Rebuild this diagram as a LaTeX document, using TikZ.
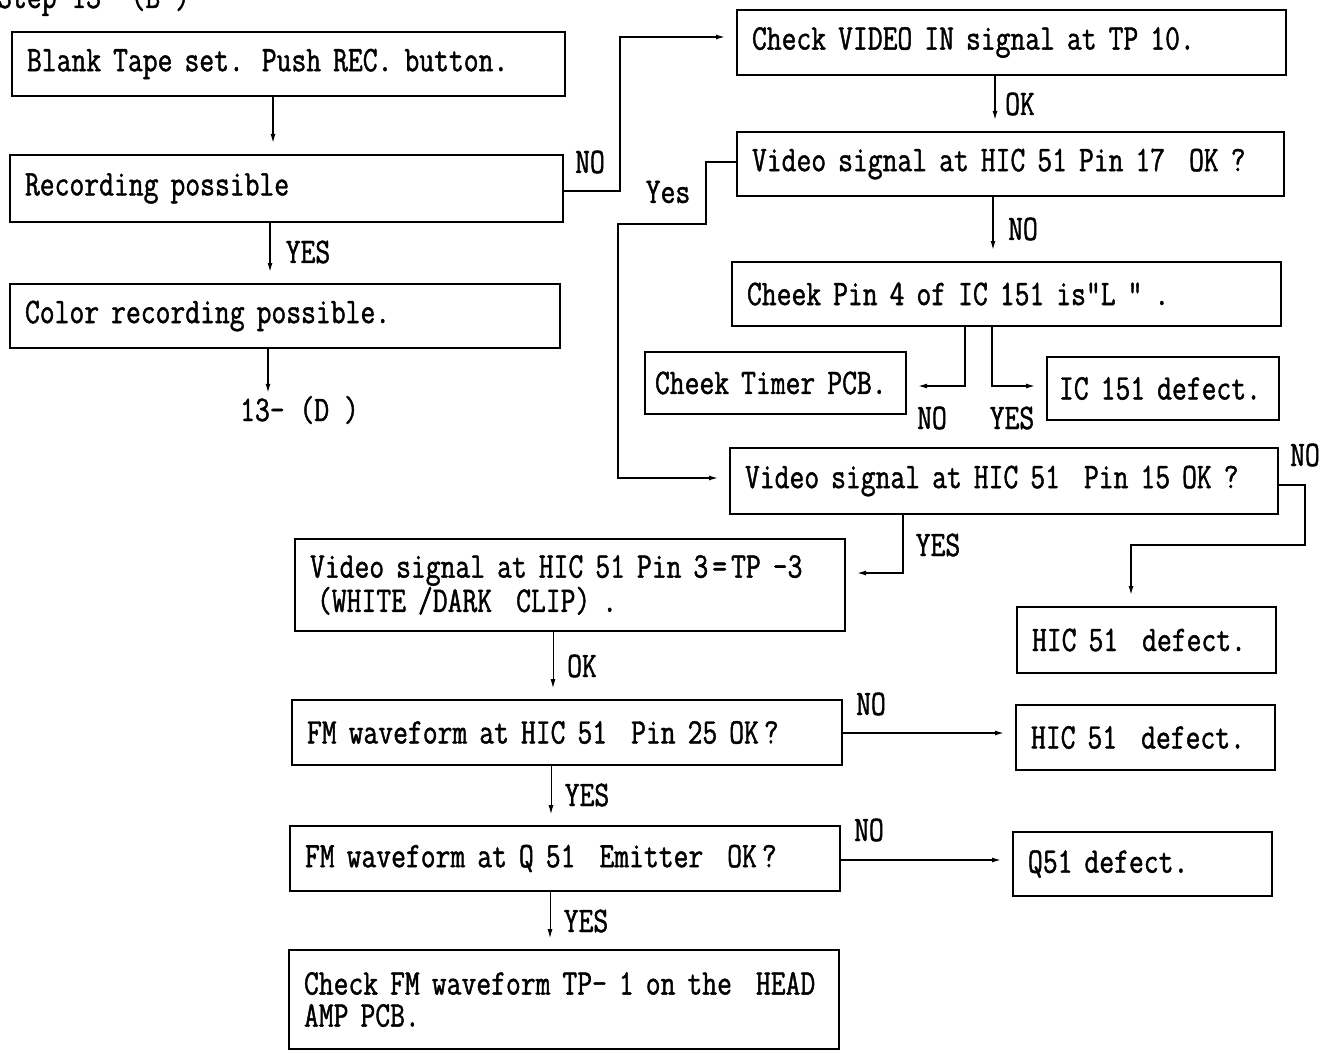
\documentclass[tikz,border=0pt]{standalone}
\usepackage{fontspec}
\usetikzlibrary{arrows.meta,calc}
\newfontfamily\dfont[FakeStretch=0.80,FakeBold=1.2]{Latin Modern Mono}
\newcommand\dsize{\fontsize{36}{32}\selectfont}
\begin{document}
\begin{tikzpicture}[x=1pt,y=-1pt,
  box/.style={draw, line width=1.8pt, inner xsep=15pt, inner ysep=0pt, outer sep=0pt, align=left, anchor=north west, font=\dfont\dsize},
  lbl/.style={inner sep=0pt, font=\dfont\dsize},
  arr/.style={line width=1.4pt, -{Latex[length=9pt,width=5pt]}, shorten >=12pt},
  thinarr/.style={line width=0.9pt, -{Latex[length=9pt,width=5pt]}, shorten >=12pt},
]
\useasboundingbox (0,0) rectangle (1333,1051);

\node[lbl, anchor=base west] (title) at (-3,8) {Step 13-~(B~)};

\node[box, text width=523pt, minimum height=64pt] (A) at (12,32) {Blank Tape set. Push REC. button.};
\node[box, text width=523pt, minimum height=67pt] (B) at (10,155) {Recording possible};
\node[box, text width=520pt, minimum height=64pt] (C) at (10,284) {Color recording possible.};
\node[lbl, anchor=west] (dref) at (240,410) {13-~(D~)};

\node[box, text width=519pt, minimum height=65pt] (D) at (737,10) {Check VIDEO IN signal at TP 10.};
\node[box, text width=517pt, minimum height=64pt] (E) at (737,132) {Video signal at HIC 51 Pin 17~~OK ?};
\node[box, text width=519pt, minimum height=64pt] (F) at (732,262) {Cheek Pin 4 of IC 151 is“L~”~.};
\node[box, inner xsep=10pt, text width=241pt, minimum height=62pt] (T) at (645,352) {Cheek Timer PCB.};
\node[box, inner xsep=12pt, text width=208pt, minimum height=63pt] (IC) at (1047,357) {IC 151 defect.};
\node[box, text width=518pt, minimum height=66pt] (G) at (730,448) {Video signal at HIC 51~~Pin 15 OK ?};
\node[box, text width=520pt, minimum height=92pt] (H) at (295,539) {Video signal at HIC 51 Pin 3\kern4pt=\kern4pt TP -3\\\hspace*{7pt}(WHITE /DARK~~CLIP)~.};
\node[box, text width=229pt, minimum height=66pt] (HD1) at (1017,607) {HIC 51~~defect.};
\node[box, text width=520pt, minimum height=65pt] (I) at (292,700) {FM waveform at HIC 51~~Pin 25 OK\kern5pt?};
\node[box, text width=229pt, minimum height=65pt] (HD2) at (1016,705) {HIC 51~~defect.};
\node[box, text width=520pt, minimum height=65pt] (J) at (290,826) {FM waveform at Q 51~~Emitter~~OK\kern5pt?};
\node[box, text width=229pt, minimum height=64pt] (Q) at (1013,832) {Q51 defect.};
\node[box, text width=520pt, minimum height=99pt] (K) at (289,950) {Check FM waveform TP- 1 on the~~HEAD\\AMP PCB.};

% labels
\node[lbl] (l1) at (590,162) {NO};
\node[lbl] (l2) at (668,192) {Yes};
\node[lbl] (l3) at (308,252) {YES};
\node[lbl] (l4) at (1020,104) {OK};
\node[lbl] (l5) at (1023,229) {NO};
\node[lbl] (l6) at (932,418) {NO};
\node[lbl] (l7) at (1012,418) {YES};
\node[lbl] (l8) at (1305,455) {NO};
\node[lbl] (l9) at (938,545) {YES};
\node[lbl] (l10) at (582,666) {OK};
\node[lbl] (l11) at (871,704) {NO};
\node[lbl] (l12) at (587,795) {YES};
\node[lbl] (l13) at (869,830) {NO};
\node[lbl] (l14) at (586,921) {YES};

% connectors
\draw[arr] (273,0 |- A.south) -- (273,0 |- B.north);
\draw[arr] (270,0 |- B.south) -- (270,0 |- C.north);
\draw[arr, shorten >=3pt] (268,0 |- C.south) -- (268,0 |- dref.north);
\draw[arr] (B.east |- 0,191) -- (620,191) -- (620,37) -- (D.west |- 0,37);
\draw[arr] (E.west |- 0,162) -- (706,162) -- (706,224) -- (618,224) -- (618,478) -- (G.west |- 0,478);
\draw[arr] (995,0 |- D.south) -- (995,0 |- E.north);
\draw[arr] (993,0 |- E.south) -- (993,0 |- F.north);
\draw[arr] (965,0 |- F.south) -- (965,386) -- (T.east |- 0,386);
\draw[arr] (992,0 |- F.south) -- (992,386) -- (IC.west |- 0,386);
\draw[arr] (G.east |- 0,485) -- (1305,485) -- (1305,545) -- (1131,545) -- (1131,0 |- HD1.north);
\draw[arr] (903,0 |- G.south) -- (903,573) -- (H.east |- 0,573);
\draw[thinarr] (553,0 |- H.south) -- (553,0 |- I.north);
\draw[arr] (I.east |- 0,733) -- (HD2.west |- 0,733);
\draw[thinarr] (551,0 |- I.south) -- (551,0 |- J.north);
\draw[arr] (J.east |- 0,860) -- (Q.west |- 0,860);
\draw[thinarr] (550,0 |- J.south) -- (550,0 |- K.north);
\end{tikzpicture}
\end{document}
